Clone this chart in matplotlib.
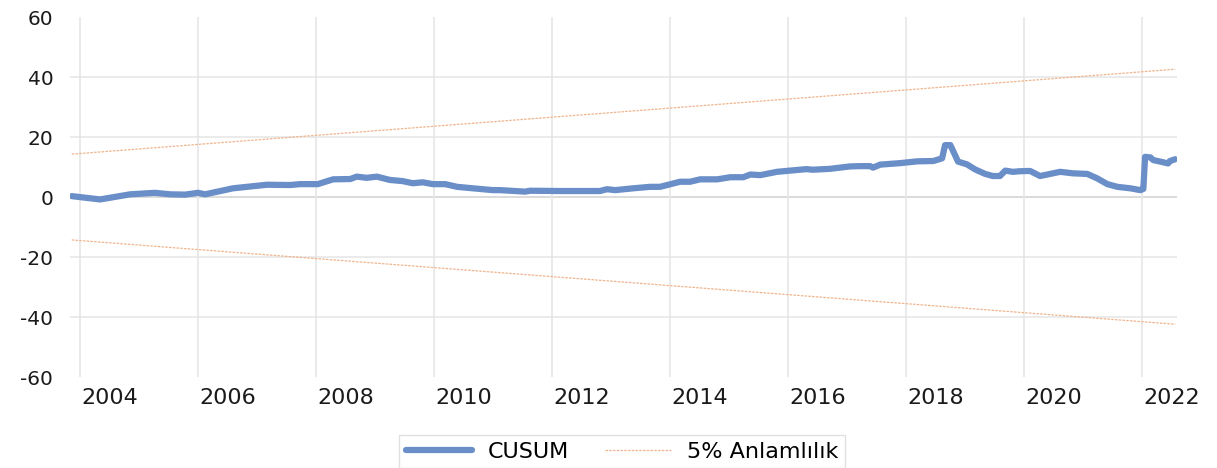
import numpy as np
import matplotlib.pyplot as plt

# CUSUM path (decimal year, value)
years = [2003.86, 2004.34, 2004.85, 2005.27, 2005.53, 2005.78, 2006.0, 2006.12,
         2006.59, 2007.17, 2007.56, 2007.73, 2008.03, 2008.29, 2008.58, 2008.69,
         2008.86, 2009.03, 2009.25, 2009.47, 2009.64, 2009.81, 2009.98, 2010.19,
         2010.39, 2010.66, 2011.0, 2011.12, 2011.54, 2011.63, 2012.14, 2012.81,
         2012.93, 2013.07, 2013.37, 2013.66, 2013.83, 2013.95, 2014.17, 2014.34,
         2014.51, 2014.80, 2015.02, 2015.24, 2015.36, 2015.53, 2015.81, 2016.03,
         2016.31, 2016.42, 2016.71, 2017.05, 2017.22, 2017.39, 2017.44, 2017.56,
         2017.90, 2018.19, 2018.46, 2018.61, 2018.66, 2018.75, 2018.88, 2019.03,
         2019.17, 2019.34, 2019.47, 2019.59, 2019.68, 2019.81, 2019.93, 2020.10,
         2020.27, 2020.44, 2020.61, 2020.83, 2021.07, 2021.24, 2021.41, 2021.58,
         2021.80, 2021.97, 2022.02, 2022.05, 2022.14, 2022.19, 2022.31, 2022.44,
         2022.47, 2022.56]
cusum = [0.3, -0.8, 0.9, 1.4, 0.9, 0.8, 1.4, 0.9,
         2.9, 4.1, 4.0, 4.3, 4.3, 5.9, 6.0, 6.8,
         6.4, 6.8, 5.7, 5.3, 4.6, 4.9, 4.3, 4.3,
         3.4, 2.9, 2.3, 2.3, 1.8, 2.1, 2.0, 2.0,
         2.6, 2.3, 2.9, 3.4, 3.4, 4.0, 5.1, 5.1,
         5.9, 5.9, 6.6, 6.6, 7.5, 7.3, 8.4, 8.8,
         9.3, 9.1, 9.4, 10.2, 10.3, 10.3, 9.8, 10.8,
         11.3, 11.9, 12.0, 12.9, 17.3, 17.3, 11.8, 10.9,
         9.2, 7.7, 7.0, 7.0, 8.8, 8.4, 8.6, 8.7,
         7.0, 7.7, 8.4, 7.9, 7.7, 6.2, 4.3, 3.4,
         2.9, 2.3, 2.7, 13.4, 13.2, 12.3, 11.8, 11.2,
         12.0, 12.6]

# 5% significance bounds (start and end of sample)
bound_years = [2003.86, 2022.56]
upper = [14.3, 42.6]
lower = [-14.3, -42.4]

label_years = list(range(2004, 2023, 2))
yticks = [-60, -40, -20, 0, 20, 40, 60]

blue = '#6A8EC8'
orange = '#F0B48C'
fam = ['DejaVu Sans']

fig = plt.figure(figsize=(12.17, 4.68), dpi=100)
ax = fig.add_axes([0.0575, 0.1944, 0.9096, 0.7692])

for y in yticks[1:-1]:
  ax.axhline(y, color='#D4D4D4' if y == 0 else '#E8E8E8', lw=1.2, zorder=0)
for x in label_years:
  ax.axvline(x, color='#E6E6E6', lw=1.2, zorder=0)

ax.plot(bound_years, upper, color=orange, lw=0.9, ls=(0, (2, 1)), label='5% Anlamlılık', zorder=2)
ax.plot(bound_years, lower, color=orange, lw=0.9, ls=(0, (2, 1)), zorder=2)
ax.plot(years, cusum, color=blue, lw=4.5, solid_capstyle='round', solid_joinstyle='round',
        label='CUSUM', zorder=3)

ax.set_xlim(2003.83, 2022.59)
ax.set_ylim(-60, 60)
ax.set_yticks(yticks)
ax.set_yticklabels([str(v) for v in yticks], family=fam, fontsize=14.5)
ax.set_xticks([y + 0.5 for y in label_years])
ax.set_xticklabels([str(y) for y in label_years], family=fam, fontsize=16)
ax.tick_params(length=0, colors='#1a1a1a')
ax.tick_params(axis='x', pad=8)
ax.tick_params(axis='y', pad=12)
for s in ax.spines.values():
  s.set_visible(False)

h, l = ax.get_legend_handles_labels()
leg = fig.legend([h[1], h[0]], [l[1], l[0]], loc='upper center',
                 bbox_to_anchor=(622 / 1217, 1 - 424 / 468), ncol=2, frameon=True,
                 fancybox=False, edgecolor='#D9D9D9', handlelength=3.0,
                 columnspacing=1.6, borderpad=0.3, handletextpad=0.7,
                 prop={'family': fam, 'size': 16})
leg.get_frame().set_linewidth(1.0)

fig.savefig('out.png', dpi=100)
